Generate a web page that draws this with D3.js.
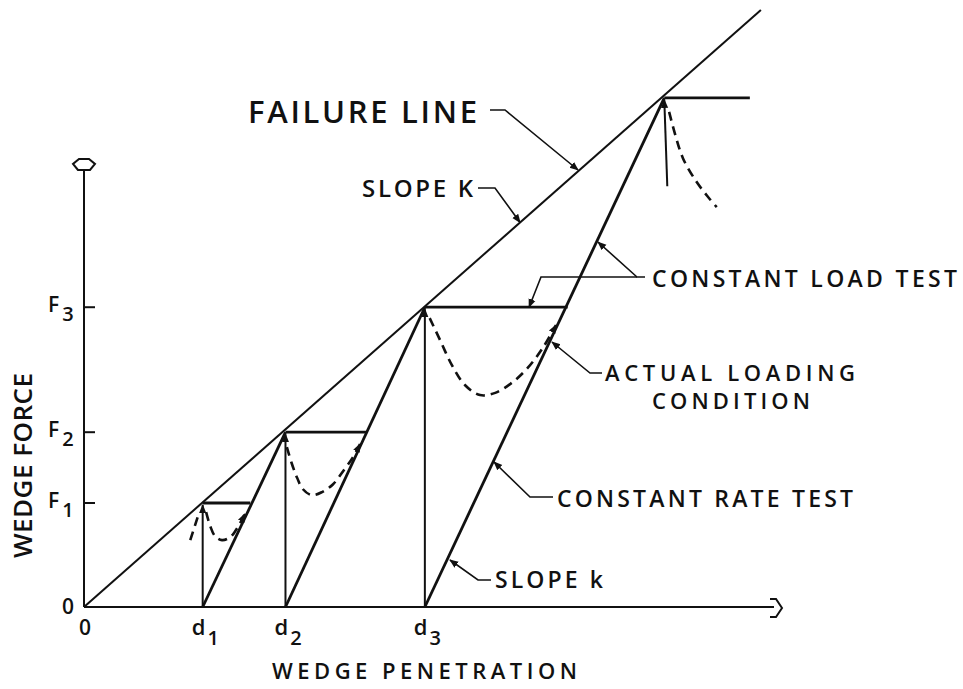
<!DOCTYPE html>
<html>
<head>
<meta charset="utf-8">
<script src="https://cdn.jsdelivr.net/npm/d3@7"></script>
<style>
  body { margin: 0; background: #fff; }
  text { font-family: "Open Sans", "DejaVu Sans", sans-serif; font-weight: 600; fill: #111; }
</style>
</head>
<body>
<div id="chart"></div>
<script>
// wedge penetration (arbitrary units) of the peaks d1..d4
const penetration = [17.2, 29.2, 49.4, 84.1];
// wedge force at the peaks F1..F4
const force = [23.8, 40.0, 68.6, 116.5];
// penetration where each constant load (horizontal) line ends
const holdEnd = [24.1, 40.9, 70.1, 96.5];
// lower end of the last vertical line
const lastDrop = 96.3;
// failure line end point
const failureEnd = [98.1, 136.6];

const xTickLabels = ["d", "d", "d"];
const xTickSubs = ["1", "2", "3"];
const yTickLabels = ["F", "F", "F"];
const yTickSubs = ["1", "2", "3"];

// actual loading condition (dashed)
const loading1 = [[17.7, 21.7], [18.3, 18.5], [19.0, 16.2], [20.0, 15.3], [21.2, 16.0], [22.3, 18.3], [23.3, 21.3]];
const loading1Lead = [[15.4, 15.3], [16.7, 21.7]];
const loading2 = [[29.4, 36.6], [30.1, 32.9], [30.9, 29.5], [31.7, 27.0], [33.0, 25.6], [34.5, 26.3], [36.1, 28.1], [37.7, 31.4], [39.0, 34.3], [40.0, 37.3]];
const loading3 = [[50.1, 66.1], [51.6, 61.1], [53.3, 55.4], [55.2, 50.8], [57.4, 48.5], [59.6, 49.0], [62.0, 51.3], [64.3, 54.7], [66.5, 59.3], [68.4, 64.5]];
const loading4 = [[84.8, 113.3], [85.7, 108.0], [86.8, 102.7], [88.6, 97.7], [90.3, 94.1], [91.7, 91.5]];

const width = 963, height = 689;

const svg = d3.select("#chart").append("svg")
  .attr("width", width)
  .attr("height", height);

const x = d3.scaleLinear().domain([0, 100]).range([84, 774]);
const y = d3.scaleLinear().domain([0, 100]).range([607, 170]);

// arrow marker
const defs = svg.append("defs");
defs.append("marker")
  .attr("id", "arrow")
  .attr("viewBox", "0 0 10 10")
  .attr("refX", 9).attr("refY", 5)
  .attr("markerWidth", 9).attr("markerHeight", 9)
  .attr("markerUnits", "userSpaceOnUse")
  .attr("orient", "auto")
  .append("path")
  .attr("d", "M0,1 L10,5 L0,9 Z")
  .attr("fill", "#111");

const ink = "#111";

// axes
svg.append("line")
  .attr("x1", x(0)).attr("y1", y(0))
  .attr("x2", x(100)).attr("y2", y(0))
  .attr("stroke", ink).attr("stroke-width", 2);
svg.append("line")
  .attr("x1", x(0)).attr("y1", y(0))
  .attr("x2", x(0)).attr("y2", y(100))
  .attr("stroke", ink).attr("stroke-width", 2);

// open axis heads
const yTop = y(100), xEnd = x(100);
svg.append("path")
  .attr("d", `M${x(0) - 6},${yTop} L${x(0) - 11},${yTop - 6} L${x(0) - 5},${yTop - 11} L${x(0) + 5},${yTop - 11} L${x(0) + 11},${yTop - 6} L${x(0) + 6},${yTop} Z`)
  .attr("fill", "#fff").attr("stroke", ink).attr("stroke-width", 2);
svg.append("path")
  .attr("d", `M${xEnd - 4},${y(0) - 8} L${xEnd + 2},${y(0) - 8} L${xEnd + 8},${y(0) + 1} L${xEnd + 2},${y(0) + 10} L${xEnd - 4},${y(0) + 10}`)
  .attr("fill", "none").attr("stroke", ink).attr("stroke-width", 2);

// y ticks
svg.selectAll(".ytick").data(force.slice(0, 3)).join("line")
  .attr("class", "ytick")
  .attr("x1", x(0)).attr("x2", x(0) + 11)
  .attr("y1", d => y(d)).attr("y2", d => y(d))
  .attr("stroke", ink).attr("stroke-width", 2);

const yLab = svg.selectAll(".ylab").data(force.slice(0, 3)).join("text")
  .attr("class", "ylab")
  .attr("x", 48)
  .attr("y", d => y(d) + 5)
  .style("font-size", "21px");
yLab.append("tspan").text((d, i) => yTickLabels[i]);
yLab.append("tspan").attr("dx", 3).attr("dy", 9).style("font-size", "20px").text((d, i) => yTickSubs[i]);

const xLab = svg.selectAll(".xlab").data(penetration.slice(0, 3)).join("text")
  .attr("class", "xlab")
  .attr("x", d => x(d) - 11)
  .attr("y", y(0) + 28)
  .style("font-size", "22px");
xLab.append("tspan").text((d, i) => xTickLabels[i]);
xLab.append("tspan").attr("dx", 2).attr("dy", 10).style("font-size", "20px").text((d, i) => xTickSubs[i]);

svg.append("text").attr("x", 68).attr("y", y(0) + 7).attr("text-anchor", "middle")
  .style("font-size", "21px").text("0");
svg.append("text").attr("x", x(0) + 1).attr("y", y(0) + 28).attr("text-anchor", "middle")
  .style("font-size", "21px").text("0");

// failure line
svg.append("line")
  .attr("x1", x(0)).attr("y1", y(0))
  .attr("x2", x(failureEnd[0])).attr("y2", y(failureEnd[1]))
  .attr("stroke", ink).attr("stroke-width", 2);

// constant rate lines: from each d on the axis to the next peak
for (let i = 0; i < 3; i++) {
  svg.append("line")
    .attr("x1", x(penetration[i])).attr("y1", y(0))
    .attr("x2", x(penetration[i + 1])).attr("y2", y(force[i + 1]))
    .attr("stroke", ink).attr("stroke-width", 2.8);
}

// vertical unloading lines with arrow at the peak
penetration.forEach((d, i) => {
  svg.append("line")
    .attr("x1", x(d) + (i === 3 ? 3 : 0)).attr("y1", y(i === 3 ? lastDrop : 0))
    .attr("x2", x(d)).attr("y2", y(force[i]) + 2)
    .attr("stroke", ink).attr("stroke-width", 2)
    .attr("marker-end", "url(#arrow)");
});

// constant load lines
force.forEach((f, i) => {
  svg.append("line")
    .attr("x1", x(penetration[i])).attr("y1", y(f))
    .attr("x2", x(holdEnd[i])).attr("y2", y(f))
    .attr("stroke", ink).attr("stroke-width", 2.8);
});

// actual loading condition
const curve = d3.line().x(d => x(d[0])).y(d => y(d[1])).curve(d3.curveCatmullRom);
[loading1, loading2, loading3].forEach(pts => {
  svg.append("path")
    .attr("d", curve(pts))
    .attr("fill", "none").attr("stroke", ink).attr("stroke-width", 2.6)
    .attr("stroke-dasharray", "9,6")
    .attr("marker-end", "url(#arrow)");
});
svg.append("path")
  .attr("d", curve(loading4))
  .attr("fill", "none").attr("stroke", ink).attr("stroke-width", 2.6)
  .attr("stroke-dasharray", "9,6");
svg.append("path")
  .attr("d", curve(loading1Lead))
  .attr("fill", "none").attr("stroke", ink).attr("stroke-width", 2.6)
  .attr("stroke-dasharray", "9,6");

// annotations
function label(txt, lx, ly, len, size) {
  svg.append("text")
    .attr("x", lx).attr("y", ly)
    .attr("textLength", len).attr("lengthAdjust", "spacing")
    .style("font-size", size + "px")
    .text(txt);
}
function leader(pts) {
  svg.append("path")
    .attr("d", d3.line()(pts))
    .attr("fill", "none").attr("stroke", ink).attr("stroke-width", 1.6)
    .attr("marker-end", "url(#arrow)");
}

label("FAILURE LINE", 248, 123, 229, 31);
leader([[490, 110], [505, 110], [x(71.6), y(100.0)]]);

label("SLOPE K", 362, 197, 111, 24);
leader([[478, 188], [495, 188], [x(63.2), y(88.0)]]);

label("CONSTANT LOAD TEST", 652, 287, 305, 23);
leader([[645, 277], [637, 277], [598, 242]]);
leader([[637, 277], [541, 277], [x(64.5), y(force[2])]]);

label("ACTUAL LOADING", 605, 381, 250, 22);
label("CONDITION", 652, 409, 158, 22);
leader([[602, 373], [590, 373], [552, 342]]);

label("CONSTANT RATE TEST", 557, 507, 296, 23);
leader([[553, 497], [530, 497], [494, 462]]);

label("SLOPE k", 495, 588, 108, 23);
leader([[491, 580], [478, 580], [450, 560]]);

// axis titles
label("WEDGE PENETRATION", 272, 679, 305, 22);
svg.append("text")
  .attr("transform", "translate(32,558) rotate(-90)")
  .attr("textLength", 185).attr("lengthAdjust", "spacing")
  .style("font-size", "26px")
  .text("WEDGE FORCE");
</script>
</body>
</html>
